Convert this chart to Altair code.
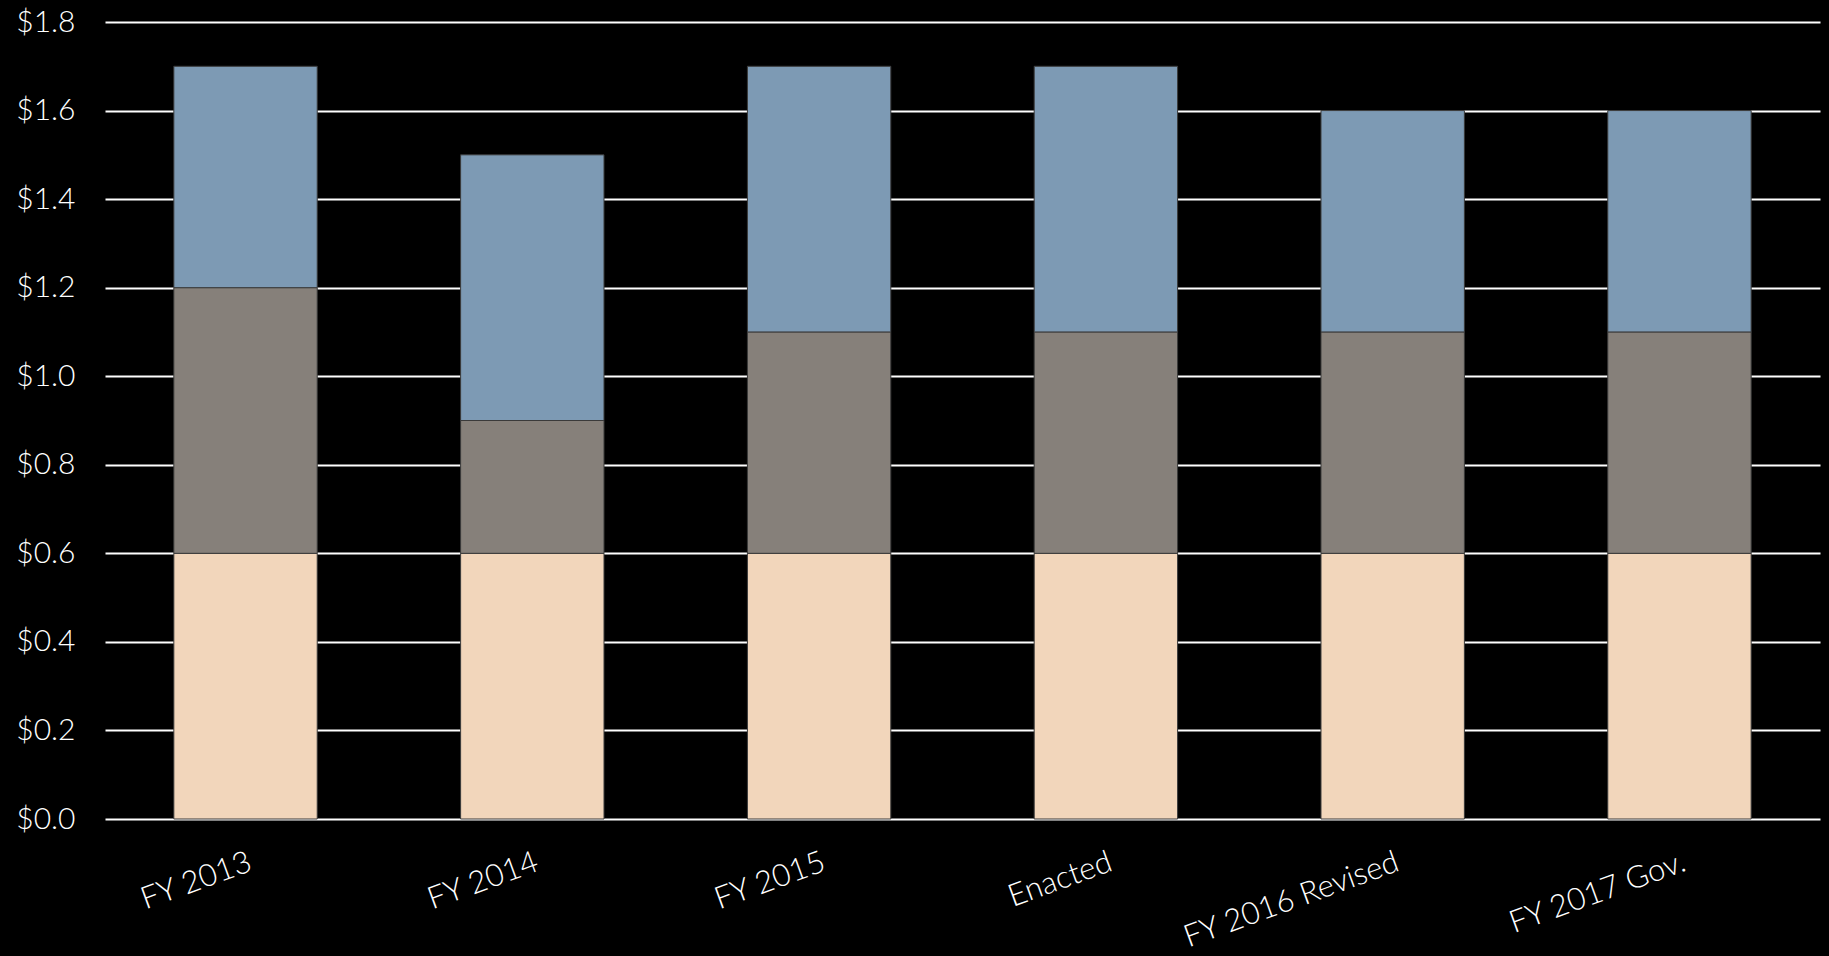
import altair as alt
import pandas as pd
from altair.utils.html import HTML_TEMPLATE

categories = ["FY 2013", "FY 2014", "FY 2015", "Enacted", "FY 2016 Revised", "FY 2017 Gov."]
series_names = ["Bottom", "Middle", "Top"]
bottom_vals = [0.6, 0.6, 0.6, 0.6, 0.6, 0.6]
middle_vals = [0.6, 0.3, 0.5, 0.5, 0.5, 0.5]
top_vals = [0.5, 0.6, 0.6, 0.6, 0.5, 0.5]
y_ticks = [0.0, 0.2, 0.4, 0.6, 0.8, 1.0, 1.2, 1.4, 1.6, 1.8]
colors = ["#f2d6bb", "#86807a", "#7d9ab4"]

rows = []
for i, c in enumerate(categories):
    for k, (name, vals) in enumerate(zip(series_names, [bottom_vals, middle_vals, top_vals])):
        rows.append({"category": c, "series": name, "value": vals[i], "order": k})
df = pd.DataFrame(rows)

font = "Lato"


class BlackPage:
    """Wraps Altair's standard HTML template and gives the page a black, margin-free body."""

    def render(self, **kwargs):
        html = HTML_TEMPLATE.render(**kwargs)
        return html.replace("<style>", "<style>\n    body { background: #000000; margin: 0; }", 1)


chart = alt.Chart(df).mark_bar(stroke="#3a3a3a", strokeWidth=1).encode(
    x=alt.X("category:N", sort=categories,
            scale=alt.Scale(paddingInner=0.5, paddingOuter=0.24),
            axis=alt.Axis(title=None, labelAngle=340, labelFontSize=31, labelColor="white",
                          labelFont=font, labelFontWeight=300, ticks=False, domain=False,
                          labelPadding=28, labelLimit=500,
                          labelAlign="right", labelBaseline="top")),
    y=alt.Y("value:Q", stack="zero",
            scale=alt.Scale(domain=[0, 1.8], nice=False),
            axis=alt.Axis(title=None, values=y_ticks, format="$.1f", labelFontSize=30,
                          labelColor="white", labelFont=font, labelFontWeight=300,
                          ticks=False, domain=False,
                          labelPadding=30, grid=True, gridColor="white", gridWidth=2,
                          gridOpacity=1)),
    color=alt.Color("series:N", scale=alt.Scale(domain=series_names, range=colors), legend=None),
    order=alt.Order("order:Q"),
).properties(
    width=1715, height=797,
    background="black",
    padding={"left": 105, "top": 22, "right": 9, "bottom": 134},
    autosize=alt.AutoSizeParams(type="none"),
).configure_view(stroke=None)

chart.save("out.html", embed_options={"renderer": "svg", "actions": False}, template=BlackPage())
